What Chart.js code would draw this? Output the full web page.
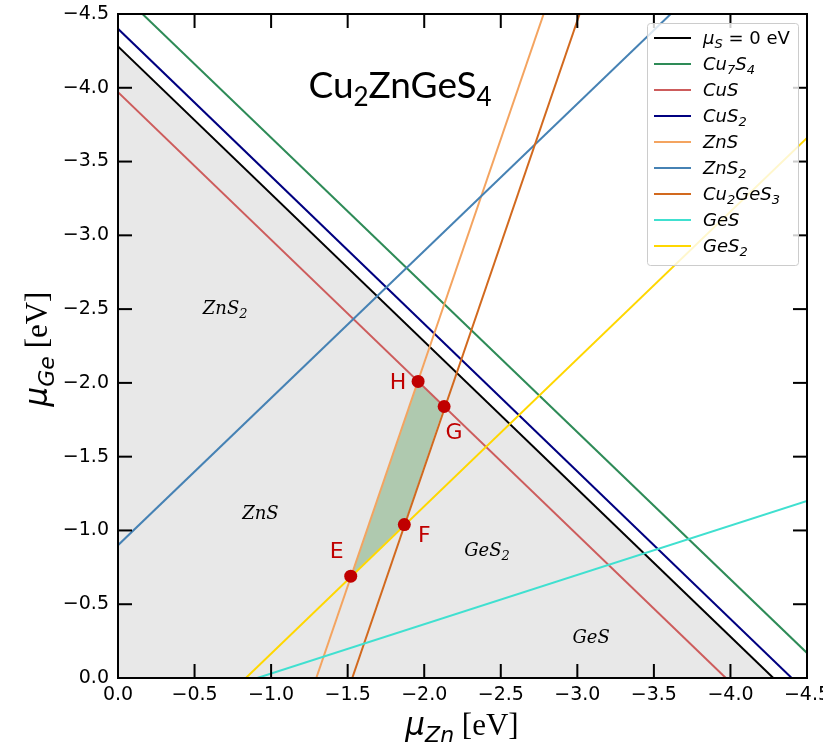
<!DOCTYPE html>
<html lang="en">
<head>
<meta charset="UTF-8">
<title>Cu2ZnGeS4 stability region</title>
<script src="https://cdn.jsdelivr.net/npm/chart.js"></script>
<style>
    html, body { margin: 0; padding: 0; background: #ffffff; }
    #wrap { width: 823px; height: 742px; }
</style>
</head>
<body>
<div id="wrap"><canvas id="stability-chart" width="823" height="742"></canvas></div>
<script>
// boundary lines as [muZn, muGe] end points (eV)
const lineNames  = ['μ_S| = 0 eV', 'Cu_7S_4', 'CuS', 'CuS_2', 'ZnS', 'ZnS_2', 'Cu_2GeS_3', 'GeS', 'GeS_2'];
const lineColors = ['#000000', '#2e8b57', '#cd5c5c', '#000080', '#f4a460', '#4682b4', '#d2691e', '#40e0d0', '#ffd700'];
const muS0    = [[0, -4.28], [-4.28, 0]];
const cu7s4   = [[-0.16, -4.5], [-4.5, -0.17]];
const cus     = [[0, -3.97], [-3.97, 0]];
const cus2    = [[0, -4.40], [-4.40, 0]];
const zns     = [[-1.295, 0], [-2.78, -4.5]];
const zns2    = [[0, -0.90], [-3.61, -4.5]];
const cu2ges3 = [[-1.53, 0], [-3.015, -4.5]];
const ges     = [[-0.91, 0], [-4.5, -1.20]];
const ges2    = [[-0.835, 0], [-4.5, -3.66]];
const allLines = [muS0, cu7s4, cus, cus2, zns, zns2, cu2ges3, ges, ges2];

// corners of the stable region
const cornerNames = ['E', 'F', 'G', 'H'];
const cornerZn = [-1.52, -1.87, -2.13, -1.96];
const cornerGe = [-0.69, -1.04, -1.84, -2.01];
const cornerLabelOffset = [[-14, -24], [20, 12], [10, 27], [-20, 2]];

// phase region labels
const regionNames = ['ZnS_2', 'ZnS', 'GeS_2', 'GeS'];
const regionZn = [-0.70, -0.93, -2.41, -3.09];
const regionGe = [-2.51, -1.12, -0.87, -0.28];

const tickValues = [0, -0.5, -1.0, -1.5, -2.0, -2.5, -3.0, -3.5, -4.0, -4.5];

const pts = arr => arr.map(p => ({x: p[0], y: p[1]}));
const corner = i => ({x: cornerZn[i], y: cornerGe[i]});

// split "Cu_7S_4" style text into pieces; '|' switches to upright
function parseRich(str, italic) {
    const segs = [];
    let i = 0;
    while (i < str.length) {
        const c = str[i];
        if (c === '|') { italic = false; i++; continue; }
        if (c === '_') { segs.push({t: str[i + 1], sub: true, it: italic}); i += 2; continue; }
        const last = segs[segs.length - 1];
        if (last && !last.sub && last.it === italic) last.t += c;
        else segs.push({t: c, sub: false, it: italic});
        i++;
    }
    return segs;
}

function segFont(s, size, fam) {
    const sz = s.sub ? Math.round(size * 0.7) : size;
    return (s.it ? 'italic ' : '') + sz + 'px ' + (s.fam || fam);
}

function drawRich(ctx, segs, x, y, size, fam, align) {
    let w = 0;
    segs.forEach(s => { ctx.font = segFont(s, size, fam); w += ctx.measureText(s.t).width; });
    let cx = align === 'center' ? x - w / 2 : x;
    ctx.textAlign = 'left';
    ctx.textBaseline = 'alphabetic';
    segs.forEach(s => {
        ctx.font = segFont(s, size, fam);
        ctx.fillText(s.t, cx, y + (s.sub ? size * 0.22 : 0));
        cx += ctx.measureText(s.t).width;
    });
}

const decor = {
    id: 'decor',
    afterDraw(chart) {
        const {ctx, chartArea: a, scales: {x, y}} = chart;
        ctx.save();

        // frame and inward ticks on all sides
        ctx.fillStyle = '#000';
        tickValues.forEach(v => {
            const px = x.getPixelForValue(v), py = y.getPixelForValue(v);
            ctx.fillRect(px - 1, a.bottom - 14, 2, 14);
            ctx.fillRect(px - 1, a.top, 2, 14);
            ctx.fillRect(a.left, py - 1, 14, 2);
            ctx.fillRect(a.right - 14, py - 1, 14, 2);
        });
        ctx.strokeStyle = '#000';
        ctx.lineWidth = 2;
        ctx.strokeRect(a.left, a.top, a.right - a.left, a.bottom - a.top);

        // region labels
        ctx.fillStyle = '#000';
        regionNames.forEach((n, i) => {
            drawRich(ctx, parseRich(n, true), x.getPixelForValue(regionZn[i]),
                y.getPixelForValue(regionGe[i]) + 6, 18, '"DejaVu Serif"', 'center');
        });

        // corner labels
        ctx.fillStyle = '#c00000';
        ctx.font = '22px "DejaVu Sans"';
        ctx.textAlign = 'center';
        ctx.textBaseline = 'middle';
        cornerNames.forEach((n, i) => {
            ctx.fillText(n, x.getPixelForValue(cornerZn[i]) + cornerLabelOffset[i][0],
                y.getPixelForValue(cornerGe[i]) + cornerLabelOffset[i][1]);
        });

        // compound title
        ctx.fillStyle = '#000';
        drawRich(ctx, parseRich('Cu_2ZnGeS_4', false), 400, 98, 37, 'Lato', 'center');

        // legend
        const lx = 647, ly = 23, lw = 151, lh = 242;
        ctx.fillStyle = 'rgba(255,255,255,0.8)';
        ctx.strokeStyle = '#cccccc';
        ctx.lineWidth = 1;
        ctx.beginPath();
        ctx.roundRect(lx + 0.5, ly + 0.5, lw, lh, 3);
        ctx.fill();
        ctx.stroke();
        lineNames.forEach((n, i) => {
            const ry = 38 + i * 26;
            ctx.strokeStyle = lineColors[i];
            ctx.lineWidth = 2;
            ctx.beginPath();
            ctx.moveTo(654, ry); ctx.lineTo(691, ry);
            ctx.stroke();
            ctx.fillStyle = '#000';
            drawRich(ctx, parseRich(n, true), 703, ry + 6, 18, '"DejaVu Sans"', 'left');
        });

        // axis titles
        const xl = [{t: 'μ', it: true, sub: false}, {t: 'Zn', it: true, sub: true},
            {t: ' [eV]', it: false, sub: false, fam: '"Liberation Serif"'}];
        drawRich(ctx, xl, 462, 735, 31, '"DejaVu Sans"', 'center');
        const yl = [{t: 'μ', it: true, sub: false}, {t: 'Ge', it: true, sub: true},
            {t: ' [eV]', it: false, sub: false, fam: '"Liberation Serif"'}];
        ctx.save();
        ctx.translate(47, 349);
        ctx.rotate(-Math.PI / 2);
        drawRich(ctx, yl, 0, 0, 31, '"DejaVu Sans"', 'center');
        ctx.restore();

        ctx.restore();
    }
};

const datasets = [];
// shaded triangle below mu_S = 0
datasets.push({data: pts(muS0), showLine: true, borderWidth: 0, pointRadius: 0,
    backgroundColor: '#e8e8e8', fill: 'origin', order: 20});
// stable polygon: lower edge E-F-G, upper edge E-H-G
datasets.push({data: [corner(0), corner(1), corner(2)], showLine: true, borderWidth: 0,
    pointRadius: 0, fill: false, order: 19});
datasets.push({data: [corner(0), corner(3), corner(2)], showLine: true, borderWidth: 0,
    pointRadius: 0, backgroundColor: '#afc9af', fill: '-1', order: 18});
allLines.forEach((l, i) => {
    datasets.push({data: pts(l), showLine: true, borderColor: lineColors[i], borderWidth: 2,
        pointRadius: 0, fill: false, order: 10 - i});
});
datasets.push({data: cornerNames.map((n, i) => corner(i)), showLine: false, pointRadius: 6.5,
    pointBackgroundColor: '#c00000', pointBorderWidth: 0, order: 0});

const tickLabel = v => v === 0 ? '0.0' : '\u2212' + Math.abs(v).toFixed(1);

new Chart(document.getElementById('stability-chart'), {
    type: 'scatter',
    data: {datasets},
    options: {
        responsive: false,
        animation: false,
        devicePixelRatio: 1,
        layout: {padding: {top: 14, right: 16, left: 0, bottom: 0}},
        plugins: {
            legend: {display: false},
            tooltip: {enabled: false},
            filler: {drawTime: 'beforeDatasetsDraw'}
        },
        scales: {
            x: {
                type: 'linear', min: -4.5, max: 0, reverse: true,
                grid: {display: false, drawTicks: false},
                border: {display: false},
                afterBuildTicks: s => { s.ticks = tickValues.map(v => ({value: v})); },
                ticks: {font: {family: 'DejaVu Sans', size: 19}, color: '#000', padding: 6,
                    maxRotation: 0, autoSkip: false, callback: tickLabel},
                afterFit: s => { s.height = 64; s.paddingLeft = 0; s.paddingRight = 0; }
            },
            y: {
                type: 'linear', min: -4.5, max: 0, reverse: true,
                grid: {display: false, drawTicks: false},
                border: {display: false},
                afterBuildTicks: s => { s.ticks = tickValues.map(v => ({value: v})); },
                ticks: {font: {family: 'DejaVu Sans', size: 19}, color: '#000', padding: 9,
                    autoSkip: false, callback: tickLabel},
                afterFit: s => { s.width = 118; s.paddingTop = 0; s.paddingBottom = 0; }
            }
        }
    },
    plugins: [decor]
});
</script>
</body>
</html>
